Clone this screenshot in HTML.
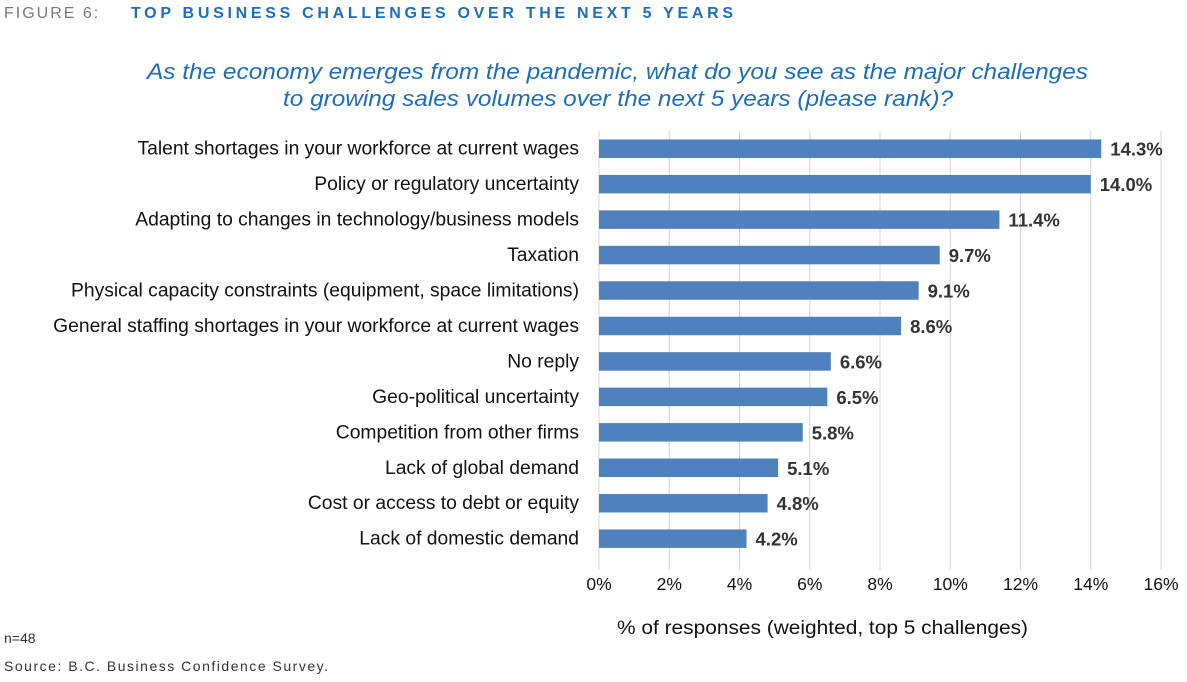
<!DOCTYPE html>
<html><head><meta charset="utf-8"><style>
body{margin:0;background:#fff;width:1187px;height:682px;overflow:hidden;font-family:"Liberation Sans",sans-serif;}
svg{display:block}
</style></head><body>
<svg width="1187" height="682">
<text x="4" y="18" font-size="16" fill="#777" letter-spacing="2">FIGURE 6:</text>
<text x="131" y="18" font-size="16" font-weight="bold" fill="#1f6db5" textLength="602" lengthAdjust="spacing">TOP BUSINESS CHALLENGES OVER THE NEXT 5 YEARS</text>
<text x="147" y="79" font-size="22" font-style="italic" fill="#1f6db5" textLength="941" lengthAdjust="spacingAndGlyphs">As the economy emerges from the pandemic, what do you see as the major challenges</text>
<text x="283" y="106" font-size="22" font-style="italic" fill="#1f6db5" textLength="670" lengthAdjust="spacingAndGlyphs">to growing sales volumes over the next 5 years (please rank)?</text>
<g id="grid"></g><g id="bars"></g><g id="labels"></g><g id="ticks"></g>
<text x="617" y="634" font-size="19" fill="#111" textLength="411" lengthAdjust="spacingAndGlyphs">% of responses (weighted, top 5 challenges)</text>
<text x="4" y="643" font-size="14" fill="#333">n=48</text>
<text x="4" y="671" font-size="14" fill="#333" textLength="324" lengthAdjust="spacing">Source:  B.C. Business Confidence Survey.</text>
</svg>
<script>
const categories=["Talent shortages in your workforce at current wages","Policy or regulatory uncertainty","Adapting to changes in technology/business models","Taxation","Physical capacity constraints (equipment, space limitations)","General staffing shortages in your workforce at current wages","No reply","Geo-political uncertainty","Competition from other firms","Lack of global demand","Cost or access to debt or equity","Lack of domestic demand"];
const values=[14.3,14.0,11.4,9.7,9.1,8.6,6.6,6.5,5.8,5.1,4.8,4.2];
const ticks=[0,2,4,6,8,10,12,14,16];
const NS="http://www.w3.org/2000/svg";
const x=v=>599+v*(562/16);
const y=i=>131+i*35.45;
const band=35.45,bh=18.5;
function mk(t,a,p){const e=document.createElementNS(NS,t);for(const k in a)e.setAttribute(k,a[k]);document.getElementById(p).appendChild(e);return e;}
ticks.forEach(t=>{
 const g=mk('line',{x1:x(t),x2:x(t),y1:131,y2:570,stroke:'#d4d4d4','stroke-width':1},'grid');
 
 
 const l=mk('text',{x:x(t),y:590,'font-size':17.5,fill:'#111','text-anchor':'middle'},'ticks');
 l.textContent=t+'%';
 
 
});
categories.forEach((c,i)=>{
 const cy=y(i)+band/2;
 const r=mk('rect',{x:x(0),y:cy-bh/2,width:x(values[i])-x(0),height:bh,fill:'#4f81bd'},'bars');
 
 
 const v=mk('text',{x:x(values[i])+9,y:cy+7,'font-size':18.5,'font-weight':'bold',fill:'#333'},'labels');
 v.textContent=values[i].toFixed(1)+'%';
 
 
 const cl=mk('text',{x:579,y:cy+6,'font-size':19.3,fill:'#111','text-anchor':'end'},'labels');
 cl.textContent=c;
 
 
});
</script>
</body></html>
